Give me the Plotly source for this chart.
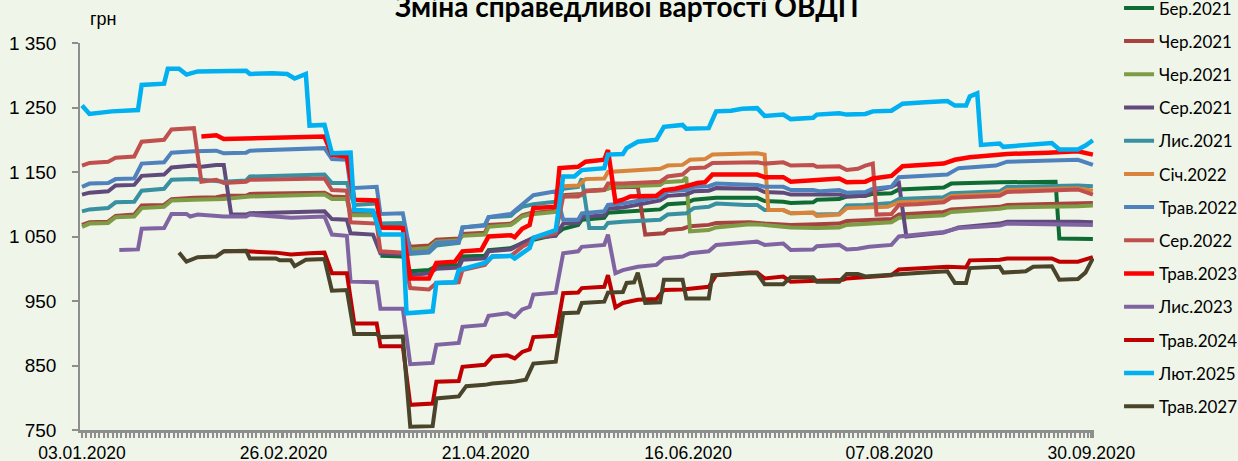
import pandas as pd
import plotly.graph_objects as go

START = pd.Timestamp("2020-01-03")

# ---- data: day offsets from 03.01.2020 and fair values (UAH) ----
ber2021_days = [80,86,88,93,95,101,102,108,109,115, 119,127,129,133,134,140,141,148,155,157,
                162,164,168,170,181,183,188,190,196,197, 203,205,210,212,217,219,231,233,246,261, 262,271]
ber2021_vals = [1020,1019,996,998,1004,1006,1019,1020,1029,1032, 1042,1053,1062,1068,1076,1079,1087,1090,1092,1100,
                1102,1107,1109,1110,1110,1105,1104,1102,1103,1107, 1108,1112,1113,1116,1117,1123,1126,1132,1134,1135, 1047,1046]

cher2021a_days = [0,2,7,9,14,16,22,24,30,36, 38,44,45,65,67,71,72,79,80,86,
                  88,93,95,101,102,108,109,115,116,118, 120,127,129,134,135,140,142,149,151,156,
                  157,161,163,168,170,179,183,190,197,203, 205,217,219,231,233,246,248,267,271]
cher2021a_vals = [1068,1072,1073,1082,1084,1098,1099,1108,1110,1111, 1113,1113,1116,1118,1112,1111,1086,1086,1066,1066,
                  1034,1036,1045,1047,1054,1056,1068,1070,1074,1083, 1086,1090,1114,1116,1121,1123,1126,1127,1053,1055,
                  1060,1062,1066,1068,1071,1072,1070,1068,1069,1070, 1074,1077,1084,1088,1092,1096,1099,1101,1102]

cher2021b_days = [0,2,7,9,14,16,22,24,30,38, 45,65,67,71,72,79,80,86,88,93,
                  95,101,102,108,109,115,116,118,120,127, 129,134,135,140,142,155,156,161,162,163,
                  168,170,179,183,190,197,203,205,217,219, 231,233,246,248,267,271]
cher2021b_vals = [1065,1070,1071,1080,1081,1094,1096,1106,1107,1108, 1112,1115,1108,1108,1083,1083,1063,1063,1030,1032,
                  1042,1044,1051,1053,1065,1068,1072,1081,1084,1088, 1112,1114,1120,1122,1127,1130,1134,1136,1142,1058,
                  1060,1064,1069,1068,1064,1063,1064,1068,1072,1079, 1083,1088,1093,1095,1097,1098]

ser2021_days = [0,2,7,9,14,16,22,24,30,32, 36,38,40,44,45,65,67,71,72,78,
                80,86,88,93,95,101,102,108,109,115, 118,121,127,129,133,134,140,141,145,155,
                157,162,164,168,170,181,183,188,190,203, 205,210,212,217,219,221,231,235,246,248, 267,271]
ser2021_vals = [1115,1118,1120,1129,1130,1144,1146,1157,1160,1158, 1161,1161,1084,1084,1086,1089,1077,1076,1055,1053,
                1024,1022,990,993,1000,1002,1014,1016,1027,1030, 1040,1048,1051,1070,1071,1080,1083,1093,1095,1106,
                1113,1115,1120,1121,1125,1124,1119,1118,1115,1115, 1112,1113,1121,1127,1133,1050,1056,1064,1070,1073, 1073,1072]

lis2021_days = [0,2,7,9,14,16,22,24,30,38, 44,45,65,67,71,73,79,80,86,88,
                93,95,101,102,108,109,115,116,118,121, 127,129,133,134,136,140,141,145,155,157,
                162,164,168,170,178,181,183,188,190,196, 197,203,205,210,217,219,231,233,246,248, 267,271]
lis2021_vals = [1089,1092,1094,1103,1104,1121,1124,1138,1139,1135, 1137,1143,1146,1133,1133,1099,1101,1070,1071,1023,
                1025,1036,1040,1064,1068,1080,1082,1088,1096,1100, 1104,1124,1127,1140,1063,1063,1071,1073,1076,1084,
                1086,1094,1096,1101,1099,1099,1091,1091,1086,1087, 1084,1085,1098,1099,1102,1108,1111,1117,1120,1127, 1129,1128]

sich2022_days = [129,133,135,140,141,152,155,157,161,163, 167,169,181,183,184,188,190,196,197,203,
                 205,216,219,231,233,246,248,267,271]
sich2022_vals = [1128,1129,1139,1140,1150,1153,1155,1160,1161,1169, 1170,1177,1179,1177,1091,1091,1086,1087,1082,1084,
                 1094,1096,1103,1106,1113,1116,1122,1125,1121]

trav2022_days = [0,2,7,9,14,16,22,24,30,36, 38,44,45,65,67,71,72,79,80,86,
                 88,93,95,101,102,108,109,115,116,118, 121,127,129,133,134,140,141,145,155,157,
                 162,164,168,170,181,183,188,190,196,198, 203,205,210,212,217,219,232,235,245,248, 267,271]
trav2022_vals = [1127,1132,1133,1139,1140,1163,1165,1180,1182,1183, 1179,1180,1183,1187,1170,1169,1125,1127,1085,1086,
                 1025,1027,1040,1042,1064,1067,1080,1085,1090,1100, 1114,1120,1076,1076,1086,1089,1099,1101,1112,1120,
                 1122,1127,1128,1132,1130,1127,1127,1122,1122,1120, 1122,1118,1119,1124,1127,1142,1146,1156,1160,1166, 1169,1161]

ser2022_days = [0,2,7,9,14,16,22,24,30,32, 36,38,44,45,65,67,71,72,79,80,
                86,88,93,95,101,102,108,110,115,118, 120,121,127,129,133,135,140,141,145,155,
                157,161,163,167,169,179,181,183,188,190, 196,197,203,205,208,210,212,213,217,219,
                224,231,233,246,248,267,271]
ser2022_vals = [1160,1164,1166,1172,1174,1197,1200,1216,1218,1135, 1138,1133,1135,1138,1140,1122,1121,1072,1070,1027,
                1025,970,968,978,979,998,1006,1019,1020,1034, 1040,1047,1055,1112,1112,1120,1122,1132,1132,1135,
                1143,1146,1156,1157,1164,1166,1165,1163,1165,1160, 1161,1158,1159,1153,1155,1160,1163,1084,1085,1099,
                1100,1103,1110,1113,1119,1123,1115]

trav2023_days = [32,36,38,44,45,65,67,71,73,79, 80,86,88,93,95,100,102,107,109,115,
                 116,118,120,121,127,128,133,135,140,141, 143,145,147,154,156,159,162,165,167,169,
                 181,183,188,190,203,205,210,212,217,220, 231,234,238,248,259,267,271]
trav2023_vals = [1205,1207,1201,1202,1203,1205,1177,1174,1107,1106, 1064,1063,985,985,1009,1011,1027,1029,1050,1052,
                 1049,1062,1068,1094,1096,1156,1158,1166,1169,1184, 1104,1107,1112,1113,1122,1124,1128,1133,1134,1146,
                 1146,1142,1142,1135,1140,1134,1135,1140,1144,1159, 1163,1169,1173,1178,1180,1182,1177]

lis2023_days = [10,15,16,22,24,28,29,31,38,44, 45,56,65,67,71,72,79,80,86,88,
                94,95,101,102,108,109,114,116,118,120, 121,127,129,133,134,140,141,143,145,149,
                154,156,161,163,168,170,179,181,183,188, 190,196,197,203,205,208,211,217,219,231,
                235,246,248,271]
lis2023_vals = [1029,1030,1062,1063,1085,1085,1081,1084,1081,1081, 1084,1079,1081,1053,1051,980,979,938,938,852,
                854,882,885,910,913,927,931,925,937,941, 960,963,1024,1027,1034,1037,1053,993,998,1003,
                1006,1016,1019,1024,1027,1037,1041,1042,1037,1039, 1029,1030,1035,1037,1030,1031,1034,1037,1050,1057,
                1063,1067,1070,1068]

trav2024_days = [38,44,52,56,61,65,67,71,73,79, 80,86,88,94,95,101,102,108,110,114,
                 116,118,120,121,127,129,133,134,140,141, 143,145,149,154,156,161,168,170,179,181,
                 183,188,190,204,205,217,219,232,237,238, 246,248,260,262,267,271]
trav2024_vals = [1027,1027,1025,1022,1024,1025,993,993,915,915, 880,880,789,791,825,826,848,851,864,866,
                 861,871,875,894,896,962,963,970,972,990, 940,947,952,953,967,968,972,990,994,994,
                 985,988,980,983,985,990,999,1003,1002,1013, 1014,1016,1016,1011,1011,1018]

lyut2025_days = [0,2,8,15,16,22,23,26,28,31, 44,45,51,55,57,58,60,61,65,67,
                 72,73,78,80,86,87,94,95,100,101, 108,110,115,116,119,120,121,127,129,132,
                 134,140,141,145,146,149,154,156,161,162, 168,170,174,177,181,183,188,190,196,197,
                 203,205,210,212,217,220,226,232,234,237, 238,240,241,246,247,255,260,262,267,269, 271]
lyut2025_vals = [1253,1240,1244,1246,1285,1287,1310,1310,1301,1306, 1307,1302,1303,1302,1295,1297,1302,1222,1223,1179,
                 1180,1091,1090,1053,1053,931,934,978,979,998, 1009,1019,1020,1016,1029,1032,1048,1060,1143,1143,
                 1153,1156,1177,1178,1187,1197,1200,1220,1223,1217, 1218,1244,1245,1248,1249,1237,1239,1232,1234,1239,
                 1241,1239,1240,1244,1245,1256,1258,1260,1253,1253, 1267,1272,1192,1194,1189,1192,1195,1185,1185,1191, 1199]

trav2027_days = [26,28,31,36,38,44,45,52,53,56, 57,60,65,67,71,73,79,80,86,88,
                 94,95,101,103,108,110,116,119,121,127, 129,133,134,140,141,145,146,148,149,151,
                 155,156,161,162,168,169,179,181,183,188, 190,196,197,203,205,208,210,217,226,232,
                 234,237,238,246,247,253,255,260,262,267, 269,271]
trav2027_vals = [1025,1011,1018,1019,1027,1028,1016,1016,1013,1013, 1004,1014,1015,966,967,899,899,894,895,755,
                 756,799,802,818,820,822,825,828,853,856, 931,932,947,949,963,964,978,979,994,947,
                 948,983,983,954,954,990,993,993,976,976, 987,987,980,980,992,992,988,990,994,996,
                 978,978,1001,1003,994,996,1003,1004,983,984, 994,1016]

series_names = ["Бер.2021", "Чер.2021", "Чер.2021", "Сер.2021", "Лис.2021", "Січ.2022", "Трав.2022",
                "Сер.2022", "Трав.2023", "Лис.2023", "Трав.2024", "Лют.2025", "Трав.2027"]
series_days = [ber2021_days, cher2021a_days, cher2021b_days, ser2021_days, lis2021_days, sich2022_days,
               trav2022_days, ser2022_days, trav2023_days, lis2023_days, trav2024_days, lyut2025_days, trav2027_days]
series_vals = [ber2021_vals, cher2021a_vals, cher2021b_vals, ser2021_vals, lis2021_vals, sich2022_vals,
               trav2022_vals, ser2022_vals, trav2023_vals, lis2023_vals, trav2024_vals, lyut2025_vals, trav2027_vals]
series_colors = ["#0E6B34", "#A8423E", "#7E9C45", "#604A7B", "#3890A0", "#D8843C", "#4F81BD",
                 "#C0504D", "#FF0000", "#8064A2", "#C00000", "#00B0F0", "#4A452A"]
series_widths = [4, 4, 4, 4, 4, 4, 4, 4, 4.5, 4, 4, 4.5, 4]

tick_days = [0, 54, 108.2, 162.5, 216.4, 270.6]
tick_labels = ["03.01.2020", "26.02.2020", "21.04.2020", "16.06.2020", "07.08.2020", "30.09.2020"]
y_ticks = [750, 850, 950, 1050, 1150, 1250, 1350]
y_labels = ["750", "850", "950", "1 050", "1 150", "1 250", "1 350"]

BG = "#EFF5E9"
AXIS = "#8E8E8E"


def to_dates(days):
    return [START + pd.Timedelta(days=d) for d in days]


fig = go.Figure()
for i, (name, days, vals, color, width) in enumerate(
        zip(series_names, series_days, series_vals, series_colors, series_widths)):
    fig.add_trace(go.Scatter(
        x=to_dates(days), y=vals, mode="lines", name=name,
        line=dict(color=color, width=width),
        legendgroup=f"g{i}",
    ))

fig.update_layout(
    template="none",
    width=1238, height=461,
    margin=dict(l=80, r=144, t=43, b=31, autoexpand=False),
    paper_bgcolor=BG, plot_bgcolor=BG,
    showlegend=True,
    legend=dict(x=1.0247, xanchor="left", y=1.136, yanchor="top",
                maxheight=560,
                font=dict(family="Lato", size=17, color="#000000"),
                tracegroupgap=8.1, bgcolor="rgba(0,0,0,0)", borderwidth=0),
    xaxis=dict(
        type="date",
        range=to_dates([-0.54, 271.3]),
        showline=True, linecolor=AXIS, linewidth=2.5,
        ticks="outside", ticklen=5, tickcolor=AXIS, tickwidth=1.5,
        tickvals=to_dates(tick_days), ticktext=tick_labels,
        tickfont=dict(family="Liberation Sans", size=17.5, color="#000000"),
        ticklabelstandoff=0,
        showgrid=False, zeroline=False,
        minor=dict(ticks="outside", ticklen=5, tickcolor=AXIS, tickwidth=1.5,
                   dtick=1.168 * 86400000, tick0=START, showgrid=False),
    ),
    yaxis=dict(
        range=[750, 1350],
        showline=True, linecolor=AXIS, linewidth=1.5,
        ticks="outside", ticklen=6, tickcolor=AXIS, tickwidth=1.5,
        tickvals=y_ticks, ticktext=y_labels,
        tickfont=dict(family="Liberation Sans", size=19, color="#000000"),
        ticklabelstandoff=12,
        showgrid=False, zeroline=False,
    ),
    annotations=[
        dict(text="<b>Зміна справедливої вартості ОВДП</b>", xref="paper", yref="paper",
             x=0.539, y=1.0956, xanchor="center", yanchor="middle", showarrow=False,
             font=dict(family="Lato", size=28, color="#000000")),
        dict(text="грн", xref="paper", yref="paper", x=0.0227, y=1.062,
             xanchor="center", yanchor="middle", showarrow=False,
             font=dict(family="Liberation Sans", size=18, color="#000000")),
    ],
)

fig.write_html("out.html", config={"displayModeBar": False},
               post_script="document.body.style.margin='0';")
